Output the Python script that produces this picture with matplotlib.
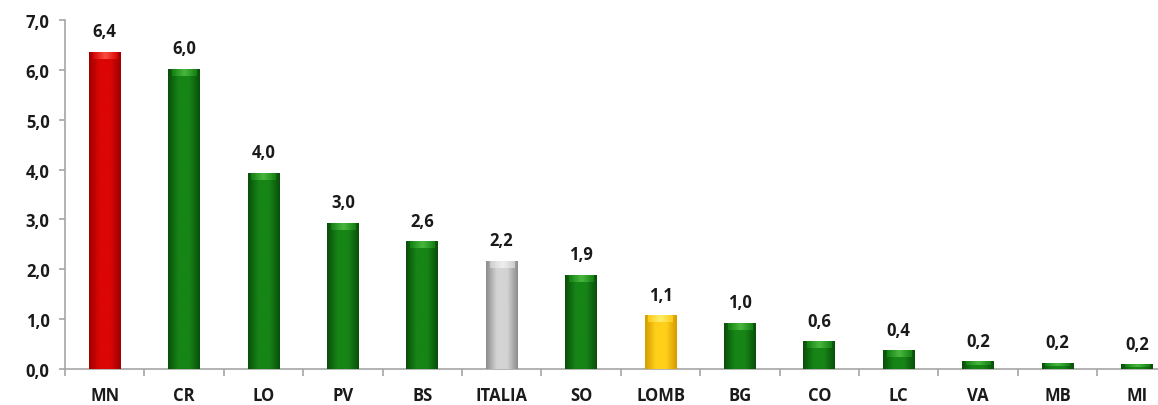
import numpy as np
import matplotlib
matplotlib.use("Agg")
import matplotlib.pyplot as plt
from matplotlib.colors import LinearSegmentedColormap

# ---- data ----
categories = ["MN", "CR", "LO", "PV", "BS", "ITALIA", "SO", "LOMB", "BG", "CO", "LC", "VA", "MB", "MI"]
values = [6.35, 6.01, 3.93, 2.92, 2.55, 2.16, 1.88, 1.07, 0.92, 0.55, 0.37, 0.15, 0.12, 0.09]
value_labels = ["6,4", "6,0", "4,0", "3,0", "2,6", "2,2", "1,9", "1,1", "1,0", "0,6", "0,4", "0,2", "0,2", "0,2"]
bar_kind = ["red", "green", "green", "green", "green", "gray", "green", "yellow",
            "green", "green", "green", "green", "green", "green"]
yticks = [0, 1, 2, 3, 4, 5, 6, 7]
ytick_labels = ["0,0", "1,0", "2,0", "3,0", "4,0", "5,0", "6,0", "7,0"]

palettes = {
    "green": ("#0a4f0a", "#168516", "#52c046"),
    "red": ("#a00000", "#dc0606", "#ff5a4a"),
    "gray": ("#8c8c8c", "#d4d4d4", "#f4f4f4"),
    "yellow": ("#d49c00", "#ffd01a", "#fff27a"),
}

plt.rcParams['font.family'] = ['Open Sans', 'DejaVu Sans']
plt.rcParams['font.weight'] = 'bold'

fig = plt.figure(figsize=(11.58, 4.06), dpi=100)
W, H = 1158, 406
left_px, axis_y, top_y = 65, 370, 21
step_px = 79.4
ax = fig.add_axes([left_px / W, (H - axis_y) / H, 14 * step_px / W, (axis_y - top_y) / H])

x = np.arange(len(categories))
bars = ax.bar(x, values, width=0.40, color=[palettes[k][1] for k in bar_kind],
              edgecolor='none', zorder=2)

# gradient shading on each bar
for b, k in zip(bars, bar_kind):
    dark, mid, light = palettes[k]
    cmap = LinearSegmentedColormap.from_list("g", [dark, mid, mid, dark])
    x0, w = b.get_x(), b.get_width()
    h = b.get_height()
    grad = np.linspace(0, 1, 64).reshape(1, -1)
    ax.imshow(grad, cmap=cmap, aspect='auto', extent=(x0, x0 + w, 0, h),
              zorder=3, interpolation='bicubic')
    # light bevel cap at top
    cap = min(0.13, h * 0.45)
    capmap = LinearSegmentedColormap.from_list("c", [mid, light, mid])
    ax.imshow(grad, cmap=capmap, aspect='auto',
              extent=(x0 + w * 0.12, x0 + w * 0.88, h - cap, h),
              zorder=4, interpolation='bicubic', alpha=0.85)

for xi, v, lab in zip(x, values, value_labels):
    ax.annotate(lab, (xi, v), xytext=(0, 11.5), textcoords='offset points',
                ha='center', va='baseline', fontsize=12, fontweight='bold', color='#1a1a1a')

ax.set_xlim(-0.5, 13.5)
ax.set_ylim(0, 7)
ax.set_yticks(yticks)
ax.set_yticklabels(ytick_labels)
ax.set_xticks(x)
ax.set_xticklabels(categories)
ax.set_xticks(np.arange(-0.5, 14, 1), minor=True)

for s in ['top', 'right']:
    ax.spines[s].set_visible(False)
for s in ['left', 'bottom']:
    ax.spines[s].set_color('#a6a6a6')
    ax.spines[s].set_linewidth(1.2)

ax.tick_params(axis='x', which='major', length=0, pad=12, labelsize=12, labelcolor='#1a1a1a')
ax.tick_params(axis='x', which='minor', length=5, width=1.2, color='#a6a6a6', direction='out')
ax.tick_params(axis='y', length=4, width=1.2, color='#a6a6a6', pad=7, labelsize=12, labelcolor='#1a1a1a')
for t in ax.get_xticklabels() + ax.get_yticklabels():
    t.set_fontweight('bold')

fig.savefig("out.png", dpi=100)
